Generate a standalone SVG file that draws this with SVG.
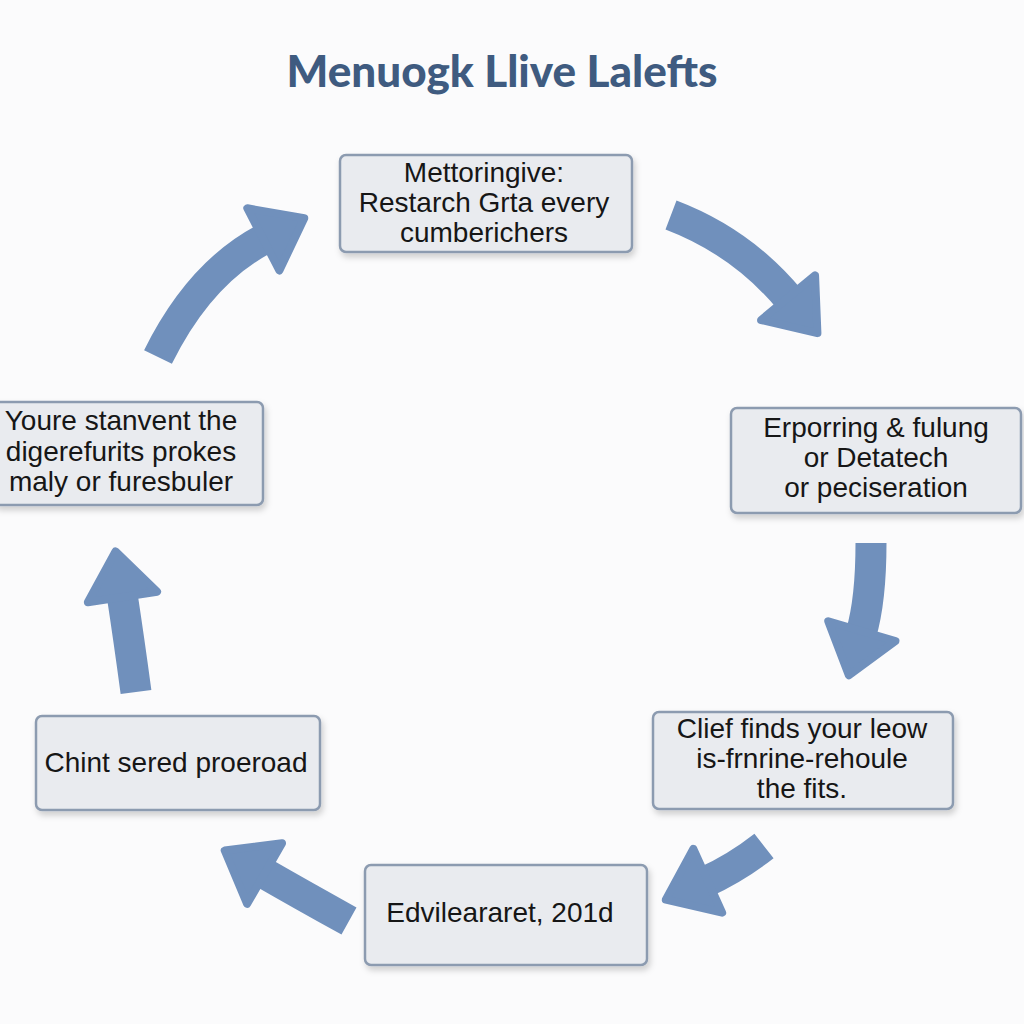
<svg xmlns="http://www.w3.org/2000/svg" width="1024" height="1024" viewBox="0 0 1024 1024">
  <defs>
    <style>
      .box { fill: #e9ebef; stroke: #8c9bb0; stroke-width: 2.5; }
      .lbl { font-family: "Liberation Sans", Roboto, sans-serif; font-size: 28px; fill: #161616; text-anchor: middle; }
      .title { font-family: Lato, "Open Sans", sans-serif; font-weight: 900; font-size: 44px; fill: #3f5b80; text-anchor: middle; }
      .shaft { fill: none; stroke: #7090bc; stroke-width: 31; stroke-linecap: butt; }
    </style>
    <filter id="sh" x="-10%" y="-10%" width="130%" height="140%">
      <feDropShadow dx="2" dy="4" stdDeviation="3" flood-color="#000" flood-opacity="0.18"/>
    </filter>
    <marker id="head" markerUnits="userSpaceOnUse" markerWidth="70" markerHeight="90" refX="3" refY="40" orient="auto" overflow="visible">
      <path d="M0,5 L46,40 L0,75 Z" fill="#7090bc" stroke="#7090bc" stroke-width="8" stroke-linejoin="round"/>
    </marker>
  </defs>
  <rect width="1024" height="1024" fill="#fbfbfc"/>
  <text class="title" x="502" y="87">Menuogk Llive Lalefts</text>

  <g id="connectors">
    <path class="shaft" d="M158,357 Q200,272 266,238" marker-end="url(#head)"/>
    <path class="shaft" d="M671,215 Q742,242 790,300" marker-end="url(#head)"/>
    <path class="shaft" d="M871,543 Q871,600 861,634" marker-end="url(#head)"/>
    <path class="shaft" d="M764,846 Q736,868 705,882" marker-end="url(#head)"/>
    <path class="shaft" d="M349,921 Q302,895 262,872" marker-end="url(#head)"/>
    <path class="shaft" d="M136,692 Q129,640 122,594" marker-end="url(#head)"/>
  </g>

  <g id="node-top">
    <rect class="box" filter="url(#sh)" x="340" y="155" width="292" height="97" rx="6"/>
    <text class="lbl" x="484" y="182">Mettoringive:</text>
    <text class="lbl" x="484" y="212">Restarch Grta every</text>
    <text class="lbl" x="484" y="242">cumberichers</text>
  </g>
  <g id="node-left">
    <rect class="box" filter="url(#sh)" x="-6" y="402" width="269" height="103" rx="6"/>
    <text class="lbl" x="121" y="430">Youre stanvent the</text>
    <text class="lbl" x="121" y="461">digerefurits prokes</text>
    <text class="lbl" x="121" y="491">maly or furesbuler</text>
  </g>
  <g id="node-right">
    <rect class="box" filter="url(#sh)" x="731" y="408" width="290" height="105" rx="6"/>
    <text class="lbl" x="876" y="437">Erporring &amp; fulung</text>
    <text class="lbl" x="876" y="467">or Detatech</text>
    <text class="lbl" x="876" y="497">or peciseration</text>
  </g>
  <g id="node-right-bottom">
    <rect class="box" filter="url(#sh)" x="653" y="712" width="300" height="97" rx="6"/>
    <text class="lbl" x="802" y="738">Clief finds your leow</text>
    <text class="lbl" x="802" y="768">is-frnrine-rehoule</text>
    <text class="lbl" x="802" y="798">the fits.</text>
  </g>
  <g id="node-left-bottom">
    <rect class="box" filter="url(#sh)" x="36" y="716" width="284" height="94" rx="6"/>
    <text class="lbl" x="176" y="772">Chint sered proeroad</text>
  </g>
  <g id="node-bottom">
    <rect class="box" filter="url(#sh)" x="365" y="865" width="282" height="100" rx="6"/>
    <text class="lbl" x="500" y="922">Edvileararet, 201d</text>
  </g>
</svg>
